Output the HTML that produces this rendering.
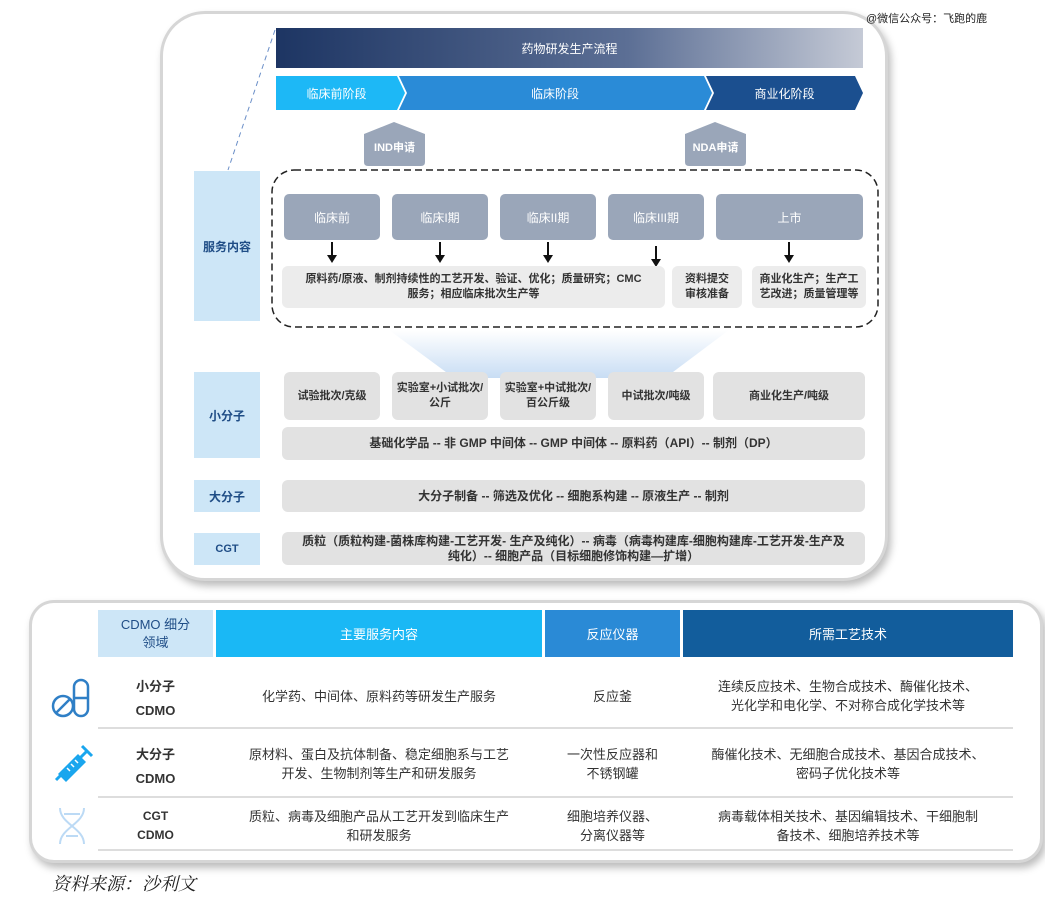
<!DOCTYPE html>
<html><head><meta charset="utf-8"><style>
*{margin:0;padding:0;box-sizing:border-box}
body{width:1045px;height:901px;background:#fff;position:relative;overflow:hidden;font-family:"Liberation Sans","Noto Sans CJK SC",sans-serif}
.a{position:absolute}
.c{display:flex;align-items:center;justify-content:center;text-align:center}
.card1{left:163px;top:14px;width:722px;height:564px;border-radius:42px;background:#fff;box-shadow:0 0 0 3px #d6d6d6,3px 5px 8px 3px #bdbdbd}
.card2{left:32px;top:603px;width:1008px;height:257px;border-radius:22px;background:#fff;box-shadow:0 0 0 3px #d6d6d6,3px 5px 8px 3px #bdbdbd}
.ph{background:#9aa6b9;color:#fff;font-size:12px;border-radius:5px;top:194px;height:46px}
.gb{background:#ececec;color:#333;font-size:11px;border-radius:6px;line-height:15px;font-weight:bold}
.lb{background:#cde6f7;color:#1f4d86;font-size:12px;font-weight:bold;left:194px;width:66px}
.sb{background:#e2e2e2;color:#333;font-size:11px;font-weight:bold;border-radius:6px;top:372px;height:48px;line-height:15px}
.arr{width:2px;background:#111;top:242px;height:14px}
.ah{border-left:5px solid transparent;border-right:5px solid transparent;border-top:8px solid #111;top:255px}
.hd{top:610px;height:47px;color:#fff;font-size:13px}
.t{color:#333;font-size:13px;line-height:19px}
.sep{left:98px;width:915px;height:2px;background:#ddd}
</style></head><body>
<div class="a card1"></div>
<div class="a" style="left:866px;top:10px;font-size:11px;color:#222">@微信公众号：飞跑的鹿</div>
<svg class="a" style="left:0;top:0" width="1045" height="600">
<line x1="275" y1="30" x2="228" y2="170" stroke="#6b8fc8" stroke-width="1" stroke-dasharray="5,4"/>
<defs><linearGradient id="g" x1="0" x2="1"><stop offset="0" stop-color="#1d3563"/><stop offset="0.6" stop-color="#5c6f95"/><stop offset="1" stop-color="#c5cad6"/></linearGradient></defs>
<rect x="276" y="28" width="587" height="40" fill="url(#g)"/>
<polygon points="276,76 397,76 405,93 397,110 276,110" fill="#1db8f6"/>
<polygon points="399,76 704,76 712,93 704,110 399,110 407,93" fill="#2a8bd7"/>
<polygon points="706,76 855,76 863,93 855,110 706,110 714,93" fill="#1b4f8f"/>
<path d="M364,134 L394,122 L425,134 L425,162 Q425,166 421,166 L368,166 Q364,166 364,162Z" fill="#9aa6b9"/>
<path d="M685,134 L715,122 L746,134 L746,162 Q746,166 742,166 L689,166 Q685,166 685,162Z" fill="#9aa6b9"/>
<rect x="272" y="170" width="606" height="157" rx="22" fill="none" stroke="#222" stroke-width="1.5" stroke-dasharray="7,4"/>
<defs><linearGradient id="f" x1="0" y1="0" x2="0" y2="1"><stop offset="0" stop-color="#fff"/><stop offset="1" stop-color="#c8ddf4"/></linearGradient></defs>
<polygon points="389,330 729,330 665,378 454,378" fill="url(#f)"/>
</svg>
<div class="a c" style="left:276px;top:28px;width:587px;height:40px;color:#fff;font-size:12px">药物研发生产流程</div>
<div class="a c" style="left:276px;top:76px;width:121px;height:34px;color:#fff;font-size:12px">临床前阶段</div>
<div class="a c" style="left:405px;top:76px;width:300px;height:34px;color:#fff;font-size:12px">临床阶段</div>
<div class="a c" style="left:712px;top:76px;width:145px;height:34px;color:#fff;font-size:12px">商业化阶段</div>
<div class="a c" style="left:364px;top:134px;width:61px;height:26px;color:#fff;font-size:11px;font-weight:bold">IND申请</div>
<div class="a c" style="left:685px;top:134px;width:61px;height:26px;color:#fff;font-size:11px;font-weight:bold">NDA申请</div>
<div class="a c lb" style="top:171px;height:150px">服务内容</div>
<div class="a c ph" style="left:284px;width:96px">临床前</div>
<div class="a c ph" style="left:392px;width:96px">临床I期</div>
<div class="a c ph" style="left:500px;width:96px">临床II期</div>
<div class="a c ph" style="left:608px;width:96px">临床III期</div>
<div class="a c ph" style="left:716px;width:147px">上市</div>
<div class="a arr" style="left:331px"></div><div class="a ah" style="left:327px"></div>
<div class="a arr" style="left:439px"></div><div class="a ah" style="left:435px"></div>
<div class="a arr" style="left:547px"></div><div class="a ah" style="left:543px"></div>
<div class="a arr" style="left:655px;top:246px"></div><div class="a ah" style="left:651px;top:259px"></div>
<div class="a arr" style="left:788px"></div><div class="a ah" style="left:784px"></div>
<div class="a c gb" style="left:282px;top:266px;width:383px;height:42px">原料药/原液、制剂持续性的工艺开发、验证、优化；质量研究；CMC<br>服务；相应临床批次生产等</div>
<div class="a c gb" style="left:672px;top:266px;width:70px;height:42px">资料提交<br>审核准备</div>
<div class="a c gb" style="left:752px;top:266px;width:114px;height:42px">商业化生产；生产工<br>艺改进；质量管理等</div>
<div class="a c lb" style="top:372px;height:86px">小分子</div>
<div class="a c sb" style="left:284px;width:96px">试验批次/克级</div>
<div class="a c sb" style="left:392px;width:96px">实验室+小试批次/<br>公斤</div>
<div class="a c sb" style="left:500px;width:96px">实验室+中试批次/<br>百公斤级</div>
<div class="a c sb" style="left:608px;width:96px">中试批次/吨级</div>
<div class="a c sb" style="left:713px;width:152px">商业化生产/吨级</div>
<div class="a c sb" style="left:282px;top:427px;width:583px;height:33px;font-size:12px">基础化学品 -- 非 GMP 中间体 -- GMP 中间体 -- 原料药（API）-- 制剂（DP）</div>
<div class="a c lb" style="top:480px;height:32px">大分子</div>
<div class="a c sb" style="left:282px;top:480px;width:583px;height:32px;font-size:12px">大分子制备 -- 筛选及优化 -- 细胞系构建 -- 原液生产 -- 制剂</div>
<div class="a c lb" style="top:533px;height:32px;font-size:11px">CGT</div>
<div class="a c sb" style="left:282px;top:532px;width:583px;height:33px;font-size:12px">质粒（质粒构建-菌株库构建-工艺开发- 生产及纯化）-- 病毒（病毒构建库-细胞构建库-工艺开发-生产及<br>纯化）-- 细胞产品（目标细胞修饰构建—扩增）</div>

<div class="a card2"></div>
<div class="a c hd" style="left:98px;width:115px;background:#cde6f7;color:#1f4d86;line-height:18px">CDMO 细分<br>领域</div>
<div class="a c hd" style="left:216px;width:326px;background:#1ab8f5">主要服务内容</div>
<div class="a c hd" style="left:545px;width:135px;background:#2a8ad6">反应仪器</div>
<div class="a c hd" style="left:683px;width:330px;background:#125d9c">所需工艺技术</div>
<div class="a sep" style="top:727px"></div>
<div class="a sep" style="top:796px"></div>
<div class="a sep" style="top:849px"></div>
<svg class="a" style="left:50px;top:676px" width="44" height="44" viewBox="0 0 44 44"><g fill="none" stroke="#2f7fc6" stroke-width="2.5"><circle cx="13" cy="30" r="10"/><line x1="6" y1="37" x2="20" y2="23"/><rect x="24" y="4" width="14" height="36" rx="7"/><line x1="24" y1="22" x2="38" y2="22"/></g></svg>
<svg class="a" style="left:52px;top:744px" width="44" height="40" viewBox="0 0 44 40"><g stroke="#1aa6ee" stroke-width="3" fill="none"><line x1="30" y1="2" x2="40" y2="12"/><line x1="35" y1="7" x2="28" y2="14"/><line x1="4" y1="36" x2="12" y2="28"/></g><polygon points="26,10 34,18 14,38 6,30" fill="#1aa6ee"/><g stroke="#fff" stroke-width="1.5"><line x1="15" y1="24" x2="18" y2="27"/><line x1="19" y1="20" x2="22" y2="23"/><line x1="23" y1="16" x2="26" y2="19"/></g></svg>
<svg class="a" style="left:54px;top:806px" width="36" height="40" viewBox="0 0 36 40"><g fill="none" stroke="#bcdaf5" stroke-width="2"><path d="M6,2 C6,18 30,22 30,38"/><path d="M30,2 C30,18 6,22 6,38"/><line x1="10" y1="8" x2="26" y2="8"/><line x1="12" y1="30" x2="24" y2="30"/></g></svg>
<div class="a c t" style="left:98px;top:676px;width:115px;height:46px;font-weight:bold;line-height:24px">小分子<br>CDMO</div>
<div class="a c t" style="left:216px;top:676px;width:326px;height:40px">化学药、中间体、原料药等研发生产服务</div>
<div class="a c t" style="left:545px;top:676px;width:135px;height:40px">反应釜</div>
<div class="a c t" style="left:683px;top:676px;width:330px;height:40px">连续反应技术、生物合成技术、酶催化技术、<br>光化学和电化学、不对称合成化学技术等</div>
<div class="a c t" style="left:98px;top:744px;width:115px;height:46px;font-weight:bold;line-height:24px">大分子<br>CDMO</div>
<div class="a c t" style="left:216px;top:744px;width:326px;height:40px">原材料、蛋白及抗体制备、稳定细胞系与工艺<br>开发、生物制剂等生产和研发服务</div>
<div class="a c t" style="left:545px;top:744px;width:135px;height:40px">一次性反应器和<br>不锈钢罐</div>
<div class="a c t" style="left:683px;top:744px;width:330px;height:40px">酶催化技术、无细胞合成技术、基因合成技术、<br>密码子优化技术等</div>
<div class="a c t" style="left:98px;top:806px;width:115px;height:40px;font-weight:bold;font-size:12px">CGT<br>CDMO</div>
<div class="a c t" style="left:216px;top:806px;width:326px;height:40px">质粒、病毒及细胞产品从工艺开发到临床生产<br>和研发服务</div>
<div class="a c t" style="left:545px;top:806px;width:135px;height:40px">细胞培养仪器、<br>分离仪器等</div>
<div class="a c t" style="left:683px;top:806px;width:330px;height:40px">病毒载体相关技术、基因编辑技术、干细胞制<br>备技术、细胞培养技术等</div>
<div class="a" style="left:52px;top:870px;font-size:18px;font-style:italic;color:#222;font-family:'Liberation Serif','Noto Serif CJK SC',serif">资料来源：沙利文</div>
</body></html>
